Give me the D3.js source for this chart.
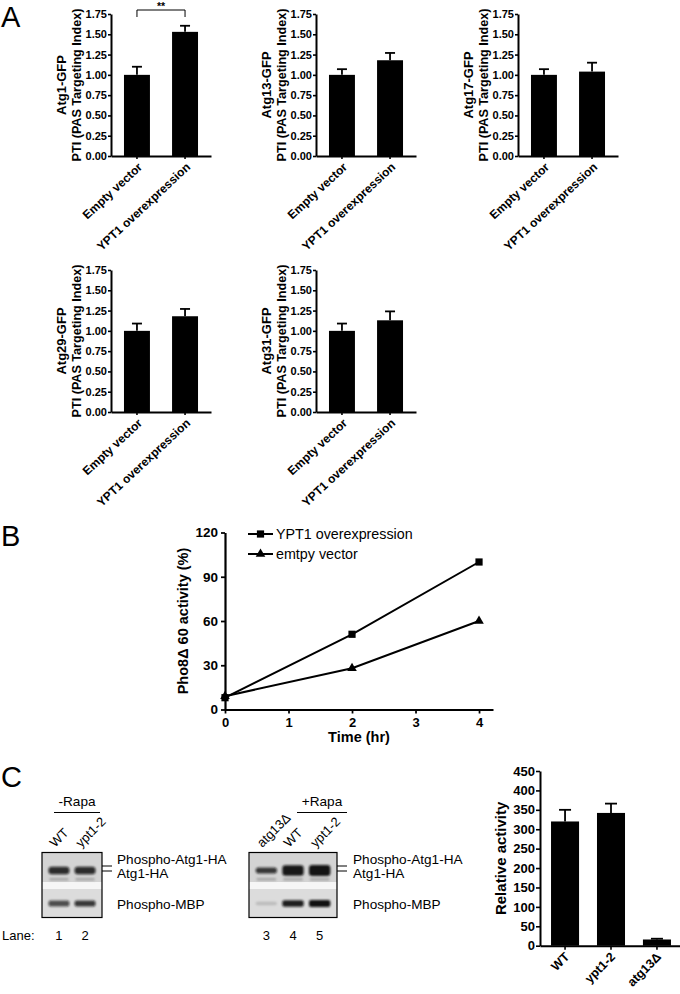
<!DOCTYPE html>
<html><head><meta charset="utf-8">
<script src="https://cdn.jsdelivr.net/npm/d3@7"></script>
<style>
body{margin:0;background:#fff;}
svg{display:block;font-family:"Liberation Sans",Arial,Helvetica,sans-serif;}
</style></head><body>
<svg id="fig" width="680" height="994"></svg>
<script>
// ---------------- DATA ----------------
// Panel A
const proteinsA = ["Atg1-GFP","Atg13-GFP","Atg17-GFP","Atg29-GFP","Atg31-GFP"];
const conditionsA = ["Empty vector","YPT1 overexpression"];
const meansA = [[1.00,1.53],[1.00,1.18],[1.00,1.04],[1.00,1.18],[1.00,1.13]];
const errorsA = [[0.10,0.075],[0.07,0.09],[0.07,0.11],[0.09,0.09],[0.09,0.11]];
const ticksA = [0,0.25,0.5,0.75,1.0,1.25,1.5,1.75];
const yLabelA = "PTI (PAS Targeting Index)";
const significanceA = "**";
// Panel B
const timeB = [0,2,4];
const ypt1B = [8,51,100];
const emptyB = [9,28,60];
const seriesB = ["YPT1 overexpression","emtpy vector"];
const xTicksB = [0,1,2,3,4];
const yTicksB = [0,30,60,90,120];
// Panel C blots
const blot1Lanes = ["WT","ypt1-2"];
const blot2Lanes = ["atg13Δ","WT","ypt1-2"];
const laneNums1 = ["1","2"];
const laneNums2 = ["3","4","5"];
const atg1Band1 = [0.85,0.85];
const atg1Band2 = [0.80,0.95,0.97];
const mbpBand1 = [0.70,0.80];
const mbpBand2 = [0.15,0.92,0.98];
const blotLabels = ["Phospho-Atg1-HA","Atg1-HA","Phospho-MBP"];
// Panel C bar chart
const strainsC = ["WT","ypt1-2","atg13Δ"];
const activityC = [320,342,16];
const errorC = [30,24,2];
const yTicksC = [0,50,100,150,200,250,300,350,400,450];

// ---------------- DRAW ----------------
const svg = d3.select("#fig");
const defs = svg.append("defs");
defs.append("filter").attr("id","blur").attr("x","-30%").attr("y","-60%").attr("width","160%").attr("height","220%")
  .append("feGaussianBlur").attr("stdDeviation",1.1);

function styleAxis(g, fs, sw){
  g.select(".domain").attr("stroke","#000").attr("stroke-width",sw);
  g.selectAll(".tick line").attr("stroke","#000").attr("stroke-width",sw*0.8);
  g.selectAll(".tick text").attr("fill","#000").attr("font-size",fs).attr("font-weight","bold").attr("font-family","Liberation Sans, Arial, sans-serif");
}

// panel letters
[["A",27],["B",546],["C",787]].forEach(([t,y])=>{
  svg.append("text").attr("x",1).attr("y",y).attr("font-size",29).text(t);
});

// ----- Panel A -----
const layoutA = [{x:111,y0:156},{x:316,y0:156},{x:518,y0:156},{x:111,y0:412},{x:316,y0:412}];
const hA = 142, wA = 100;
proteinsA.forEach((p,i)=>{
  const L = layoutA[i];
  const g = svg.append("g").attr("transform",`translate(${L.x},${L.y0-hA})`);
  const y = d3.scaleLinear().domain([0,1.75]).range([hA,0]);
  const x = d3.scaleBand().domain(conditionsA).range([0,wA]).paddingInner(0.46).paddingOuter(0.27);
  const data = conditionsA.map((c,j)=>({c, v:meansA[i][j], e:errorsA[i][j]}));
  data.forEach(d=>{
    const cx = x(d.c)+x.bandwidth()/2;
    g.append("line").attr("x1",cx).attr("x2",cx).attr("y1",y(d.v)).attr("y2",y(d.v+d.e)).attr("stroke","#000").attr("stroke-width",1.8);
    g.append("line").attr("x1",cx-5).attr("x2",cx+5).attr("y1",y(d.v+d.e)).attr("y2",y(d.v+d.e)).attr("stroke","#000").attr("stroke-width",1.8);
  });
  g.selectAll("rect.bar").data(data).join("rect").attr("class","bar")
    .attr("x",d=>x(d.c)).attr("width",x.bandwidth())
    .attr("y",d=>y(d.v)).attr("height",d=>hA-y(d.v)).attr("fill","#000");
  const ya = g.append("g").call(d3.axisLeft(y).tickValues(ticksA).tickFormat(d3.format(".2f")).tickSize(3).tickSizeOuter(0).tickPadding(1));
  styleAxis(ya,"11px",2);
  const xa = g.append("g").attr("transform",`translate(0,${hA})`).call(d3.axisBottom(x).tickSize(3).tickSizeOuter(0));
  styleAxis(xa,"12px",2);
  xa.selectAll(".tick text").attr("y",0).attr("dy",0).attr("text-anchor","end")
    .attr("transform","translate(6,12) rotate(-43)");
  const cy = hA/2;
  g.append("text").attr("transform",`translate(-45,${cy}) rotate(-90)`).attr("text-anchor","middle")
    .attr("font-weight","bold").attr("font-size","13px").text(p);
  g.append("text").attr("transform",`translate(-30,${cy}) rotate(-90)`).attr("text-anchor","middle")
    .attr("font-weight","bold").attr("font-size","12.6px").text(yLabelA);
  if(i===0){
    const x1 = x(conditionsA[0])+x.bandwidth()/2, x2 = x(conditionsA[1])+x.bandwidth()/2;
    const top = y(1.75)-4;
    g.append("path").attr("d",`M${x1},${top+7}V${top}H${x2}V${top+7}`).attr("fill","none").attr("stroke","#000").attr("stroke-width",1);
    g.append("text").attr("x",(x1+x2)/2).attr("y",top).attr("text-anchor","middle").attr("font-size","10.5px").attr("font-weight","bold").text(significanceA);
  }
});

// ----- Panel B -----
const xB = d3.scaleLinear().domain([0,4.22]).range([225,493]);
const yB = d3.scaleLinear().domain([0,120]).range([709.5,532.5]);
const gB = svg.append("g");
const lineB = d3.line().x(d=>xB(d[0])).y(d=>yB(d[1]));
const ptsY = timeB.map((t,i)=>[t,ypt1B[i]]);
const ptsE = timeB.map((t,i)=>[t,emptyB[i]]);
gB.append("path").attr("d",lineB(ptsY)).attr("fill","none").attr("stroke","#000").attr("stroke-width",2);
gB.append("path").attr("d",lineB(ptsE)).attr("fill","none").attr("stroke","#000").attr("stroke-width",2);
const sq = d3.symbol().type(d3.symbolSquare).size(52);
const tri = d3.symbol().type(d3.symbolTriangle).size(40);
gB.selectAll("path.sq").data(ptsY).join("path").attr("class","sq").attr("d",sq).attr("transform",d=>`translate(${xB(d[0])},${yB(d[1])})`);
gB.selectAll("path.tr").data(ptsE).join("path").attr("class","tr").attr("d",tri).attr("transform",d=>`translate(${xB(d[0])},${yB(d[1])})`);
const xaB = gB.append("g").attr("transform","translate(0,709.5)").call(d3.axisBottom(xB).tickValues(xTicksB).tickFormat(d3.format("d")).tickSize(4).tickSizeOuter(0).tickPadding(4));
styleAxis(xaB,"13px",2.2);
const yaB = gB.append("g").attr("transform","translate(225,0)").call(d3.axisLeft(yB).tickValues(yTicksB).tickSize(4).tickSizeOuter(0).tickPadding(3));
styleAxis(yaB,"13.5px",2.2);
gB.append("text").attr("x",(xB(0)+xB(4.22))/2).attr("y",742).attr("text-anchor","middle").attr("font-weight","bold").attr("font-size","14.5px").text("Time (hr)");
gB.append("text").attr("transform",`translate(188,${(yB(0)+yB(120))/2}) rotate(-90)`).attr("text-anchor","middle").attr("font-weight","bold").attr("font-size","14.5px").text("Pho8Δ 60 activity (%)");
[[seriesB[0],sq,534],[seriesB[1],tri,554]].forEach(([t,s,yy])=>{
  gB.append("line").attr("x1",248).attr("x2",273).attr("y1",yy).attr("y2",yy).attr("stroke","#000").attr("stroke-width",2);
  gB.append("path").attr("d",s).attr("transform",`translate(260.5,${yy})`);
  gB.append("text").attr("x",276).attr("y",yy+5).attr("font-size","14.3px").text(t);
});

// ----- Panel C blots -----
function drawBlot(x0,x1,lanes,nums,atg1,mbp,labelX,condText,condX1,condX2){
  const top=852.5, bot=917.5, mid1=882, mid2=889;
  const g = svg.append("g");
  const xs = d3.scaleBand().domain(lanes.map((d,i)=>i)).range([x0,x1]).paddingInner(0.2).paddingOuter(0.25);
  g.append("rect").attr("x",x0).attr("y",top).attr("width",x1-x0).attr("height",mid1-top).attr("fill","#d4d4d4");
  g.append("rect").attr("x",x0).attr("y",mid1).attr("width",x1-x0).attr("height",mid2-mid1).attr("fill","#f6f6f6");
  g.append("rect").attr("x",x0).attr("y",mid2).attr("width",x1-x0).attr("height",bot-mid2).attr("fill","#dcdcdc");
  const bands = g.append("g").attr("filter","url(#blur)");
  lanes.forEach((l,i)=>{
    const bx = xs(i), bw = xs.bandwidth();
    const h = 6 + 6*Math.max(0,atg1[i]-0.8)*5;
    bands.append("rect").attr("x",bx).attr("y",870.5-h/2).attr("width",bw).attr("height",h).attr("rx",3).attr("fill","#111").attr("opacity",atg1[i]);
    bands.append("rect").attr("x",bx+1).attr("y",878).attr("width",bw-2).attr("height",2.5).attr("fill","#777").attr("opacity",0.5);
    const hm = 3 + 4*mbp[i];
    bands.append("rect").attr("x",bx).attr("y",903.5-hm/2).attr("width",bw).attr("height",hm).attr("rx",2).attr("fill","#111").attr("opacity",mbp[i]);
  });
  g.append("rect").attr("x",x0).attr("y",top).attr("width",x1-x0).attr("height",bot-top).attr("fill","none").attr("stroke","#000").attr("stroke-width",1.2);
  lanes.forEach((l,i)=>{
    const cx = xs(i)+xs.bandwidth()/2;
    g.append("text").attr("transform",`translate(${cx-4},848) rotate(-45)`).attr("font-size","13px").attr("font-weight","500").text(l);
    g.append("text").attr("x",cx).attr("y",940).attr("text-anchor","middle").attr("font-size","13px").text(nums[i]);
  });
  [866,871].forEach(yy=>g.append("line").attr("x1",x1).attr("x2",x1+10).attr("y1",yy).attr("y2",yy).attr("stroke","#000").attr("stroke-width",1));
  [[blotLabels[0],864],[blotLabels[1],877.5],[blotLabels[2],909]].forEach(([t,yy])=>{
    g.append("text").attr("x",labelX).attr("y",yy).attr("font-size","13.6px").text(t);
  });
  g.append("text").attr("x",(condX1+condX2)/2).attr("y",806).attr("text-anchor","middle").attr("font-size","13.6px").text(condText);
  g.append("line").attr("x1",condX1).attr("x2",condX2).attr("y1",812.5).attr("y2",812.5).attr("stroke","#000").attr("stroke-width",1);
}
drawBlot(42,102,blot1Lanes,laneNums1,atg1Band1,mbpBand1,117,"-Rapa",54,100);
drawBlot(249,337,blot2Lanes,laneNums2,atg1Band2,mbpBand2,353,"+Rapa",297,347);
svg.append("text").attr("x",2).attr("y",940).attr("font-size","13px").text("Lane:");

// ----- Panel C bar chart -----
const yC = d3.scaleLinear().domain([0,450]).range([945.7,771]);
const xC = d3.scaleBand().domain(strainsC).range([540,682]).paddingInner(0.39).paddingOuter(0.24);
const gC = svg.append("g");
strainsC.forEach((s,i)=>{
  const cx = xC(s)+xC.bandwidth()/2, v=activityC[i], e=errorC[i];
  gC.append("line").attr("x1",cx).attr("x2",cx).attr("y1",yC(v)).attr("y2",yC(v+e)).attr("stroke","#000").attr("stroke-width",1.8);
  gC.append("line").attr("x1",cx-6).attr("x2",cx+6).attr("y1",yC(v+e)).attr("y2",yC(v+e)).attr("stroke","#000").attr("stroke-width",1.8);
});
gC.selectAll("rect").data(strainsC).join("rect").attr("x",d=>xC(d)).attr("width",xC.bandwidth())
  .attr("y",(d,i)=>yC(activityC[i])).attr("height",(d,i)=>yC(0)-yC(activityC[i])).attr("fill","#000");
const yaC = gC.append("g").attr("transform","translate(540,0)").call(d3.axisLeft(yC).tickValues(yTicksC).tickSize(4).tickSizeOuter(0).tickPadding(1));
styleAxis(yaC,"13px",2);
const xaC = gC.append("g").attr("transform",`translate(0,${yC(0)})`).call(d3.axisBottom(xC).tickSize(4).tickSizeOuter(0));
styleAxis(xaC,"12.5px",2);
xaC.selectAll(".tick text").attr("y",0).attr("dy",0).attr("text-anchor","end").attr("transform","translate(5,12) rotate(-45)");
gC.append("text").attr("transform",`translate(506,${(yC(0)+yC(450))/2}) rotate(-90)`).attr("text-anchor","middle").attr("font-weight","bold").attr("font-size","15px").text("Relative activity");
</script>
</body></html>
